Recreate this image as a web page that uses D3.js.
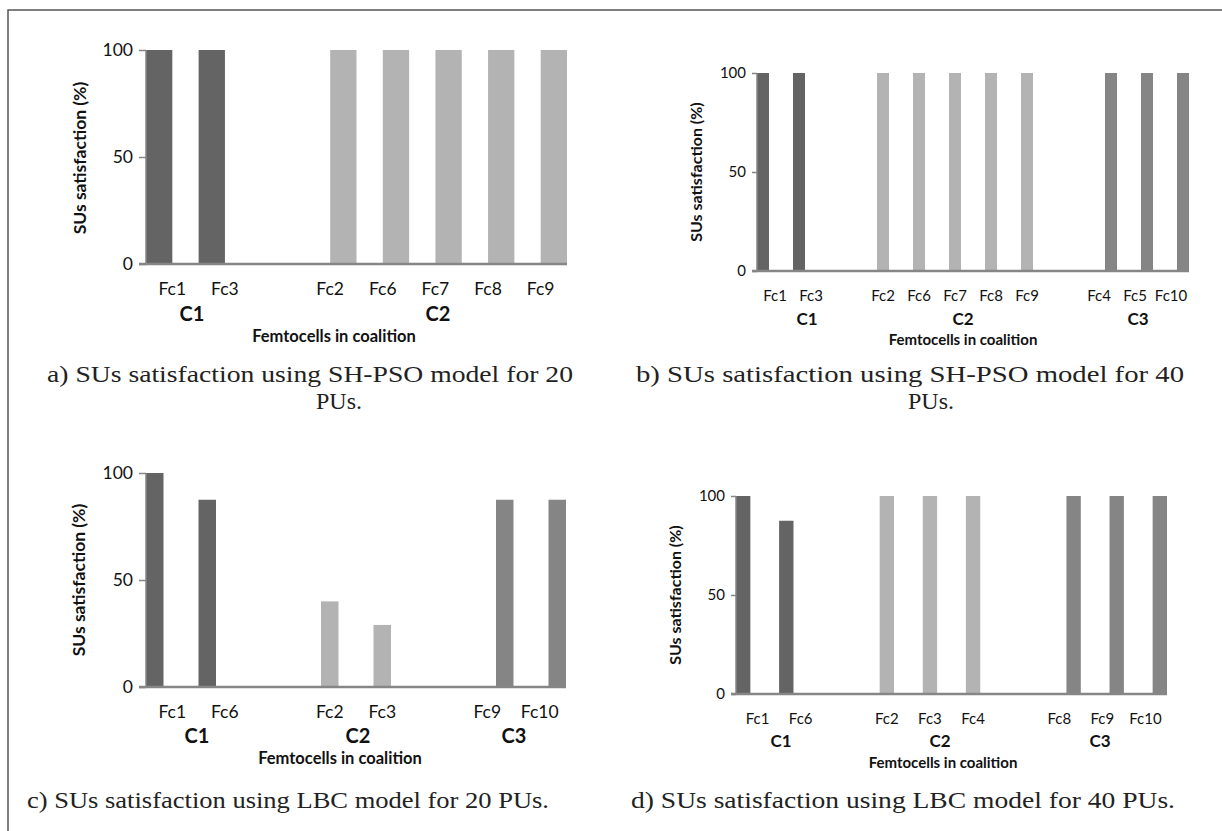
<!DOCTYPE html>
<html>
<head>
<meta charset="utf-8">
<script src="https://cdn.jsdelivr.net/npm/d3@7"></script>
<style>
  body { margin: 0; background: #fff; }
  svg text { font-family: Lato, "Open Sans", sans-serif; }
  .cap { font-family: "Liberation Serif", "DejaVu Serif", serif; font-size: 24px; fill: #222; }
</style>
</head>
<body>
<svg width="1222" height="831"></svg>
<script>
// categories and values per panel
var catsA = ["Fc1", "Fc3", "", "Fc2", "Fc6", "Fc7", "Fc8", "Fc9"];
var c1A = [100, 100, null, null, null, null, null, null];
var c2A = [null, null, null, 100, 100, 100, 100, 100];

var catsB = ["Fc1", "Fc3", "", "Fc2", "Fc6", "Fc7", "Fc8", "Fc9", "", "Fc4", "Fc5", "Fc10"];
var c1B = [100, 100, null, null, null, null, null, null, null, null, null, null];
var c2B = [null, null, null, 100, 100, 100, 100, 100, null, null, null, null];
var c3B = [null, null, null, null, null, null, null, null, null, 100, 100, 100];

var catsC = ["Fc1", "Fc6", "", "Fc2", "Fc3", "", "Fc9", "Fc10"];
var c1C = [100, 87.5, null, null, null, null, null, null];
var c2C = [null, null, null, 40, 29, null, null, null];
var c3C = [null, null, null, null, null, null, 87.5, 87.5];

var catsD = ["Fc1", "Fc6", "", "Fc2", "Fc3", "Fc4", "", "Fc8", "Fc9", "Fc10"];
var c1D = [100, 87.5, null, null, null, null, null, null, null, null];
var c2D = [null, null, null, 100, 100, 100, null, null, null, null];
var c3D = [null, null, null, null, null, null, null, 100, 100, 100];

var yTicks = [0, 50, 100];
var yTitle = "SUs satisfaction (%)";
var xTitle = "Femtocells in coalition";
var captionA = ["a) SUs satisfaction using SH-PSO model for 20", "PUs."];
var captionB = ["b)  SUs satisfaction using SH-PSO model for 40", "PUs."];
var captionC = ["c) SUs satisfaction using LBC model for 20 PUs."];
var captionD = ["d) SUs satisfaction using LBC model for 40 PUs."];

var colors = {C1: "#646464", C2: "#b3b3b3", C3: "#858585"};
var axisColor = "#868686";

var svg = d3.select("svg");

// outer frame (top and left only)
svg.append("path")
  .attr("d", "M8,831 V10 H1222")
  .attr("fill", "none")
  .attr("stroke", "#555")
  .attr("stroke-width", 1.5);

function panel(cfg) {
  var g = svg.append("g");
  var idx = d3.range(cfg.cats.length);
  var names = cfg.series.map(function(s) { return s.name; });

  var x = d3.scaleBand().domain(idx).range([cfg.x0, cfg.x1]).padding(0);
  var xs = d3.scaleBand().domain(names).range([0, x.bandwidth()]).padding(0);
  var y = d3.scaleLinear().domain([0, 100]).range([cfg.yb, cfg.yt]);

  cfg.series.forEach(function(s) {
    g.selectAll(null)
      .data(s.values.map(function(v, i) { return {i: i, v: v}; })
        .filter(function(d) { return d.v != null; }))
      .enter().append("rect")
        .attr("x", function(d) { return x(d.i) + xs(s.name); })
        .attr("y", function(d) { return y(d.v); })
        .attr("width", xs.bandwidth())
        .attr("height", function(d) { return y(0) - y(d.v); })
        .attr("fill", colors[s.name]);
  });

  // y axis
  var ya = g.append("g")
    .attr("transform", "translate(" + cfg.x0 + ",0)")
    .call(d3.axisLeft(y).tickValues(yTicks).tickSize(cfg.tick).tickPadding(cfg.pad));
  ya.select(".domain").attr("stroke", axisColor).attr("stroke-width", 1.5)
    .attr("d", "M0," + (cfg.yt) + "V" + cfg.yb);
  ya.selectAll(".tick line").attr("stroke", axisColor).attr("stroke-width", 1.5);
  ya.selectAll(".tick text").attr("fill", "#111")
    .style("font-size", cfg.fs + "px");

  // x axis
  var xa = g.append("g")
    .attr("transform", "translate(0," + cfg.yb + ")")
    .call(d3.axisBottom(x).tickSize(0).tickPadding(cfg.xpad)
      .tickFormat(function(i) { return cfg.cats[i]; }));
  xa.select(".domain").attr("stroke", axisColor).attr("stroke-width", 2.5)
    .attr("d", "M" + (cfg.x0 - cfg.tick) + ",0H" + cfg.x1);
  xa.selectAll(".tick text").attr("fill", "#111")
    .style("font-size", cfg.fs + "px");

  // coalition labels
  cfg.groups.forEach(function(gr) {
    g.append("text")
      .attr("x", gr.x).attr("y", cfg.gy)
      .attr("text-anchor", "middle")
      .style("font-size", cfg.gfs + "px").style("font-weight", "bold")
      .attr("fill", "#111")
      .text(gr.label);
  });

  // axis titles
  g.append("text")
    .attr("x", cfg.xtx).attr("y", cfg.xty)
    .attr("text-anchor", "middle")
    .style("font-size", cfg.xfs + "px").style("font-weight", "bold")
    .attr("fill", "#111")
    .text(xTitle);

  g.append("text")
    .attr("transform", "translate(" + cfg.ytx + "," + cfg.yty + ") rotate(-90)")
    .attr("text-anchor", "middle")
    .style("font-size", cfg.tfs + "px").style("font-weight", "bold")
    .attr("fill", "#111")
    .text(yTitle);

  // caption
  cfg.caption.forEach(function(line, k) {
    var t = svg.append("text")
      .attr("class", "cap")
      .attr("x", cfg.capx[k]).attr("y", cfg.capy + k * 27)
      .attr("text-anchor", "middle")
      .text(line);
    if (k === 0) t.attr("textLength", cfg.capw).attr("lengthAdjust", "spacingAndGlyphs");
  });
}

panel({
  cats: catsA,
  series: [{name: "C1", values: c1A}, {name: "C2", values: c2A}],
  x0: 146, x1: 567, yt: 50, yb: 264,
  tick: 7, pad: 6, xpad: 19, fs: 17.5,
  groups: [{label: "C1", x: 192}, {label: "C2", x: 438}],
  gy: 321, gfs: 20,
  xtx: 334, xty: 342, xfs: 16.5, ytx: 86, yty: 158, tfs: 17.5,
  caption: captionA, capx: [310, 339], capy: 382, capw: 526
});

panel({
  cats: catsB,
  series: [{name: "C1", values: c1B}, {name: "C2", values: c2B}, {name: "C3", values: c3B}],
  x0: 757, x1: 1189, yt: 73, yb: 271,
  tick: 5, pad: 6, xpad: 19, fs: 15,
  groups: [{label: "C1", x: 807}, {label: "C2", x: 963}, {label: "C3", x: 1138}],
  gy: 325, gfs: 17,
  xtx: 963, xty: 345, xfs: 15, ytx: 702, yty: 172, tfs: 16,
  caption: captionB, capx: [910, 931], capy: 382, capw: 548
});

panel({
  cats: catsC,
  series: [{name: "C1", values: c1C}, {name: "C2", values: c2C}, {name: "C3", values: c3C}],
  x0: 146, x1: 566, yt: 473, yb: 687,
  tick: 7, pad: 6, xpad: 19, fs: 17.5,
  groups: [{label: "C1", x: 197}, {label: "C2", x: 358}, {label: "C3", x: 514}],
  gy: 743, gfs: 20,
  xtx: 340, xty: 764, xfs: 16.5, ytx: 85, yty: 580, tfs: 17.5,
  caption: captionC, capx: [288], capy: 808, capw: 522
});

panel({
  cats: catsD,
  series: [{name: "C1", values: c1D}, {name: "C2", values: c2D}, {name: "C3", values: c3D}],
  x0: 736, x1: 1167, yt: 496, yb: 694,
  tick: 5, pad: 6, xpad: 19, fs: 15,
  groups: [{label: "C1", x: 781}, {label: "C2", x: 940}, {label: "C3", x: 1100}],
  gy: 747, gfs: 17,
  xtx: 943, xty: 768, xfs: 15, ytx: 681, yty: 595, tfs: 16,
  caption: captionD, capx: [903], capy: 808, capw: 544
});
</script>
</body>
</html>
